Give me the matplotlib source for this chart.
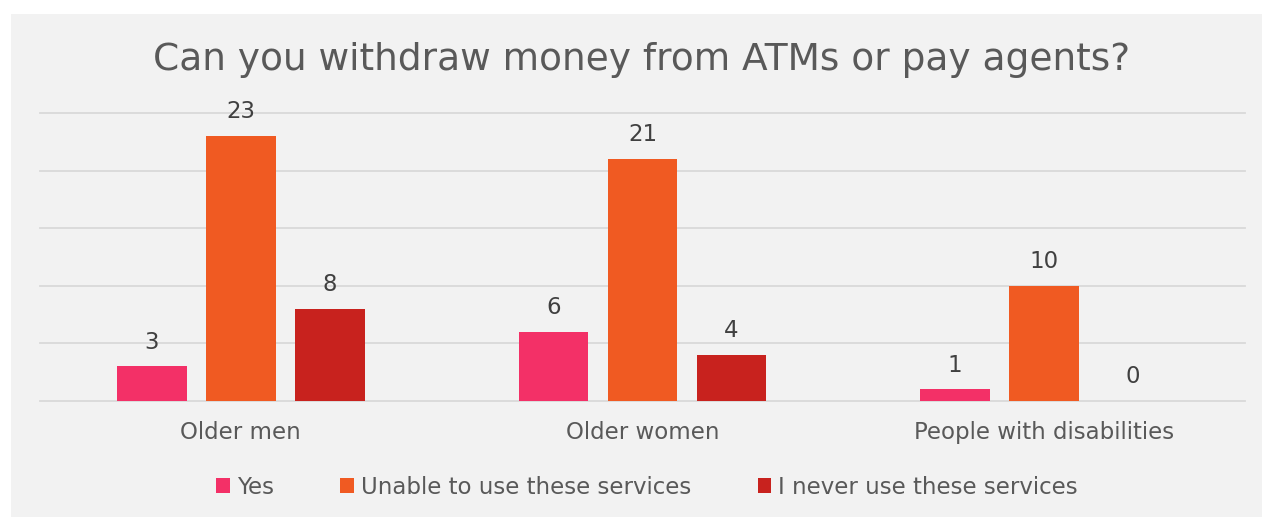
import numpy as np
import matplotlib.pyplot as plt
from matplotlib.patches import Rectangle

categories = ["Older men", "Older women", "People with disabilities"]
series_names = ["Yes", "Unable to use these services", "I never use these services"]
yes_vals = [3, 6, 1]
unable_vals = [23, 21, 10]
never_vals = [8, 4, 0]
colors = ["#F33067", "#F05A22", "#C8221E"]

plt.rcParams['font.family'] = ['DejaVu Sans']

W, H = 1262, 517
fig = plt.figure(figsize=(W / 100, H / 100), dpi=100)
fig.patch.set_facecolor("white")
# gray chart area
fig.patches.append(Rectangle((11 / W, 0), 1 - 11 / W, 1 - 14 / H, transform=fig.transFigure,
                             facecolor="#F2F2F2", edgecolor="none", zorder=-10))

ax = fig.add_axes([40 / W, 1 - 401 / H, (1245 - 40) / W, (401 - 113) / H])
ax.set_facecolor("none")

x = np.arange(len(categories))
step = 0.2216
width = 0.174
all_vals = [yes_vals, unable_vals, never_vals]
for i, (vals, name, c) in enumerate(zip(all_vals, series_names, colors)):
    pos = x + (i - 1) * step
    ax.bar(pos, vals, width, color=c, label=name, zorder=3)
    for p, v in zip(pos, vals):
        ax.text(p, v + 1.1, str(v), ha="center", va="bottom", fontsize=16.5, color="#404040")

ax.set_xlim(-0.5, 2.5)
ax.set_ylim(0, 25)
ax.set_yticks([0, 5, 10, 15, 20, 25])
ax.yaxis.grid(True, color="#D9D9D9", linewidth=1.3, zorder=0)
for gl in ax.get_ygridlines():
    gl.set_clip_on(False)
ax.tick_params(axis="y", left=False, labelleft=False)
ax.tick_params(axis="x", bottom=False, pad=11, labelsize=16.5, labelcolor="#595959")
ax.set_xticks(x)
ax.set_xticklabels(categories)
for s in ax.spines.values():
    s.set_visible(False)

fig.text(642 / W, 1 - 60 / H, "Can you withdraw money from ATMs or pay agents?", ha="center", va="center",
         fontsize=27, color="#595959")

fig.legend(loc="center", bbox_to_anchor=(647 / W, 1 - 487 / H), ncol=3, frameon=False,
           fontsize=16.5, labelcolor="#595959", handlelength=0.6, handleheight=0.6,
           handletextpad=0.3, columnspacing=2.9)

fig.savefig("out.png", dpi=100, facecolor="white")
